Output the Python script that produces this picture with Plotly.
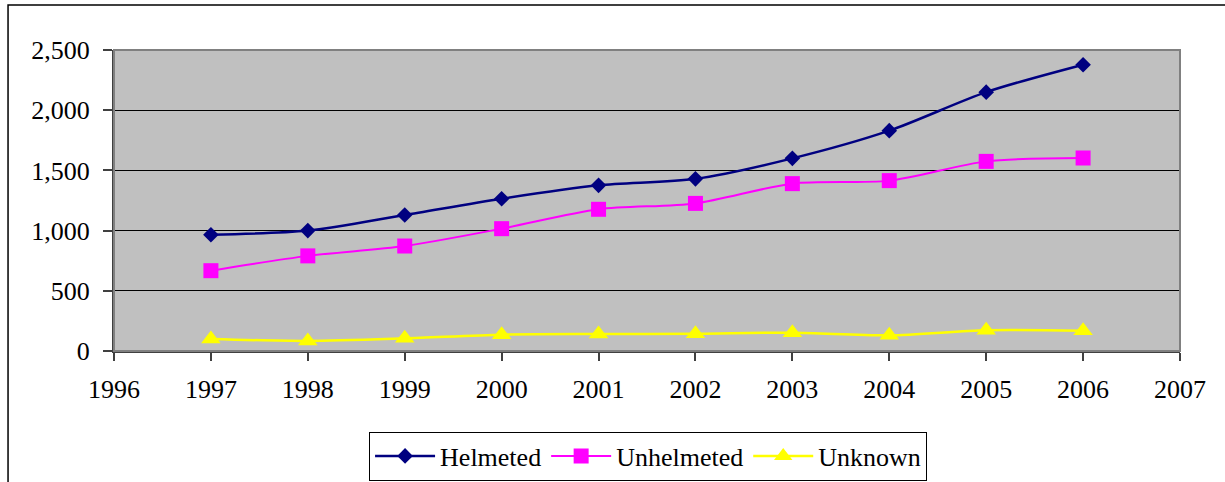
import plotly.graph_objects as go

years = [1997, 1998, 1999, 2000, 2001, 2002, 2003, 2004, 2005, 2006]
helmeted = [965, 1000, 1130, 1265, 1376, 1430, 1600, 1830, 2150, 2378]
unhelmeted = [667, 790, 872, 1016, 1177, 1226, 1390, 1415, 1575, 1603]
unknown = [100, 84, 105, 136, 141, 143, 152, 130, 172, 168]

x_ticks = list(range(1996, 2008))
y_ticks = [0, 500, 1000, 1500, 2000, 2500]

FONT = "Liberation Serif, Times New Roman, serif"

fig = go.Figure()
fig.add_trace(go.Scatter(
    x=years, y=helmeted, name="Helmeted", mode="lines+markers",
    line=dict(color="#000080", width=2.5, shape="spline", smoothing=0.8),
    marker=dict(symbol="diamond", size=12, color="#000080"),
))
fig.add_trace(go.Scatter(
    x=years, y=unhelmeted, name="Unhelmeted", mode="lines+markers",
    line=dict(color="#FF00FF", width=2, shape="spline", smoothing=0.8),
    marker=dict(symbol="square", size=15, color="#FF00FF"),
))
fig.add_trace(go.Scatter(
    x=years, y=unknown, name="Unknown", mode="lines+markers",
    line=dict(color="#FFFF00", width=2.5, shape="spline", smoothing=0.8),
    marker=dict(symbol="triangle-up", size=17, color="#FFFF00"),
))

# plot area frame (grey top/right edge)
fig.add_shape(type="rect", xref="paper", yref="paper", x0=0, y0=0, x1=1, y1=1,
              line=dict(color="#808080", width=2), layer="above")
# outer chart frame, running off the right and bottom edges
fig.add_shape(type="rect", xref="paper", yref="paper",
              x0=-0.0994, y0=-0.6, x1=1.2, y1=1.1495,
              line=dict(color="black", width=1.5), layer="above")

fig.update_layout(
    width=1225, height=482,
    margin=dict(l=114, r=45, t=50, b=131),
    paper_bgcolor="white",
    plot_bgcolor="#C0C0C0",
    font=dict(family=FONT, color="black", size=26),
    showlegend=True,
    legend=dict(
        orientation="h", x=0.501, xref="paper", y=1 - 456 / 482, yref="container",
        xanchor="center", yanchor="middle",
        bordercolor="black", borderwidth=1, bgcolor="white",
        font=dict(family=FONT, size=26), itemwidth=60,
        traceorder="normal",
    ),
    xaxis=dict(
        range=[1996, 2007], tickmode="array", tickvals=x_ticks,
        ticktext=[str(v) for v in x_ticks],
        showgrid=False, zeroline=False,
        showline=True, linecolor="#404040", linewidth=2,
        ticks="outside", ticklen=8, tickcolor="#404040", tickwidth=1.5,
        ticklabelstandoff=6,
        tickfont=dict(family=FONT, size=26),
    ),
    yaxis=dict(
        range=[0, 2500], tickmode="array", tickvals=y_ticks,
        tickformat=",",
        showgrid=True, gridcolor="black", gridwidth=1, zeroline=False,
        showline=True, linecolor="#404040", linewidth=2,
        ticks="outside", ticklen=9, tickcolor="#404040", tickwidth=1.5,
        ticklabelstandoff=8,
        tickfont=dict(family=FONT, size=26),
    ),
)

fig.write_html("out.html")
